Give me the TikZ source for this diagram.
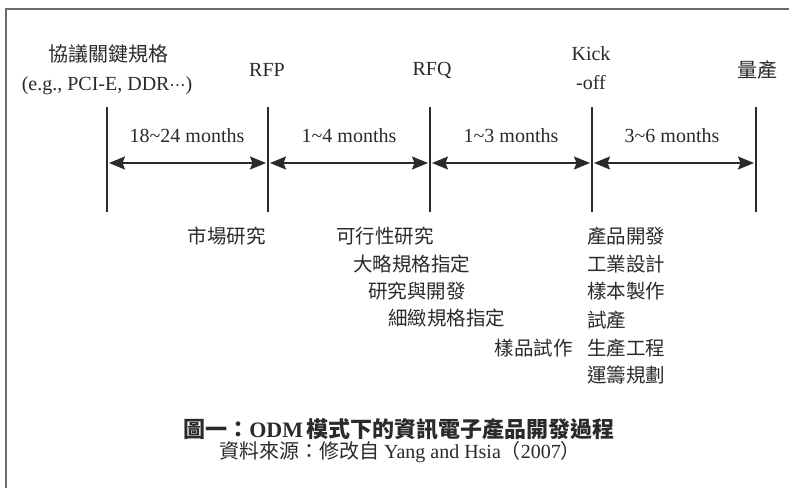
\documentclass[tikz,border=0pt]{standalone}
\usepackage{fontspec}
\setmainfont{Liberation Serif}
\newfontfamily\cjk{Noto Sans CJK TC}
\newfontfamily\dejavu{DejaVu Sans}
\usetikzlibrary{arrows.meta}
\definecolor{txt}{HTML}{2A2A2A}
\definecolor{frame}{HTML}{6A6A6A}
\tikzset{
  lbl/.style={inner sep=0pt, text=txt, font=\fontsize{20}{22}\selectfont},
  cj/.style={inner sep=0pt, text=txt, font=\cjk\fontsize{19.5}{22}\selectfont},
  tick/.style={draw=txt, line width=1.2pt},
  tip/.tip={Stealth[length=16pt,width=13pt,inset=2.5pt]},
  span/.style={draw=txt, line width=1.4pt, tip-tip, shorten <=2pt, shorten >=2pt}
}
\begin{document}
\begin{tikzpicture}[x=1pt,y=-1pt]
\useasboundingbox (0,0) rectangle (789,488);
\fill[white] (0,0) rectangle (789,488);
\draw[frame, line width=2pt] (6,488) -- (6,9) -- (789,9);

% milestones
\foreach \n/\x in {m0/107,m1/268,m2/430,m3/592,m4/756}{
  \coordinate (\n t) at (\x,107);
  \coordinate (\n b) at (\x,212);
  \coordinate (\n a) at (\x,163);
  \draw[tick] (\n t) -- (\n b);
}
\draw[span] (m0a) -- (m1a);
\draw[span] (m1a) -- (m2a);
\draw[span] (m2a) -- (m3a);
\draw[span] (m3a) -- (m4a);

% top labels
\node[cj, font=\cjk\fontsize{20}{22}\selectfont] (p0) at (108,54) {協議關鍵規格};
\node[lbl] (p0b) at (107,86) {(e.g., PCI-E, DDR{\dejavu\fontsize{16}{18}\selectfont ⋯})};
\node[lbl] (p1) at (267,70) {RFP};
\node[lbl] (p2) at (432,70) {RFQ};
\node[lbl] (p3) at (591,54) {Kick};
\node[lbl] (p3b) at (591,83) {-off};
\node[cj, font=\cjk\fontsize{20}{22}\selectfont] (p4) at (757,70) {量產};

% durations
\node[lbl] (d1) at (187,136) {18\char`\~24 months};
\node[lbl] (d2) at (349,136) {1\char`\~4 months};
\node[lbl] (d3) at (511,136) {1\char`\~3 months};
\node[lbl] (d4) at (672,136) {3\char`\~6 months};

% activities
\node[cj, anchor=east] (a1) at (266,236) {市場研究};
\node[cj, anchor=west] (b1) at (336,236) {可行性研究};
\node[cj, anchor=west] (b2) at (353,264) {大略規格指定};
\node[cj, anchor=west] (b3) at (368,291) {研究與開發};
\node[cj, anchor=west] (b4) at (388,318) {細緻規格指定};
\node[cj, anchor=east] (c1) at (573,348) {樣品試作};
\node[cj, anchor=west] (e1) at (587,236) {產品開發};
\node[cj, anchor=west] (e2) at (587,264) {工業設計};
\node[cj, anchor=west] (e3) at (587,291) {樣本製作};
\node[cj, anchor=west] (e4) at (587,320) {試產};
\node[cj, anchor=west] (e5) at (587,348) {生產工程};
\node[cj, anchor=west] (e6) at (587,375) {運籌規劃};

% caption
\node[inner sep=0pt, text=txt, font=\fontsize{22}{24}\selectfont\bfseries] (t1) at (399,429)
  {{\cjk 圖一：}ODM\,{\cjk 模式下的資訊電子產品開發過程}};
\node[inner sep=0pt, text=txt, font=\fontsize{20}{22}\selectfont] (t2) at (400,452)
  {{\cjk 資料來源：修改自} Yang and Hsia{\cjk（}2007{\cjk）}};
\end{tikzpicture}
\end{document}
